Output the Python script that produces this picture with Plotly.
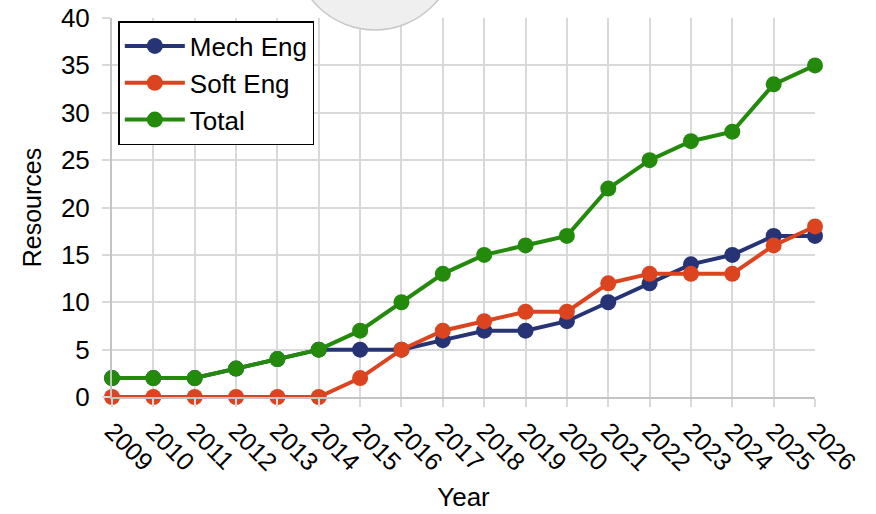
import plotly.graph_objects as go

years = list(range(2009, 2027))
mech_eng = [2, 2, 2, 3, 4, 5, 5, 5, 6, 7, 7, 8, 10, 12, 14, 15, 17, 17]
soft_eng = [0, 0, 0, 0, 0, 0, 2, 5, 7, 8, 9, 9, 12, 13, 13, 13, 16, 18]
total = [2, 2, 2, 3, 4, 5, 7, 10, 13, 15, 16, 17, 22, 25, 27, 28, 33, 35]

series = [
    ("Mech Eng", mech_eng, "#263374"),
    ("Soft Eng", soft_eng, "#DC4420"),
    ("Total", total, "#238A0C"),
]

fig = go.Figure()
for name, vals, col in series:
    fig.add_trace(go.Scatter(
        x=years, y=vals, name=name, mode="lines+markers",
        line=dict(color=col, width=4),
        marker=dict(color=col, size=16),
        cliponaxis=False,
    ))

grid = "#d9d9d9"
fig.update_layout(
    width=876, height=514,
    margin=dict(l=112, r=61, t=18, b=117),
    paper_bgcolor="white", plot_bgcolor="white",
    font=dict(family="Liberation Sans, Arial, sans-serif", size=25, color="black"),
    showlegend=True,
    legend=dict(
        x=0.009, y=0.992, xanchor="left", yanchor="top",
        bgcolor="white", bordercolor="black", borderwidth=1.5,
        font=dict(size=26), tracegroupgap=0, itemwidth=60,
    ),
    xaxis=dict(
        range=[2009, 2026], dtick=1, tickangle=45, automargin=False,
        showgrid=True, gridcolor=grid, gridwidth=1.5,
        ticks="outside", ticklen=8, tickcolor=grid, tickwidth=1.5,
        showline=True, linecolor="#c4c4c4", linewidth=1.5,
        zeroline=False,
        title=dict(text="Year", standoff=13, font=dict(size=26)),
        tickfont=dict(size=25),
    ),
    yaxis=dict(
        range=[0, 40], dtick=5, automargin=False,
        showgrid=True, gridcolor=grid, gridwidth=1.5,
        ticks="outside", ticklen=8, tickcolor=grid, tickwidth=1.5,
        ticksuffix="\u00a0",
        showline=True, linecolor="#c4c4c4", linewidth=1.5,
        zeroline=False,
        title=dict(text="Resources", standoff=12, font=dict(size=25)),
        tickfont=dict(size=26),
    ),
)

# partial light-grey circle at the top edge (overlay in the reference image)
fig.add_shape(
    type="circle", xref="paper", yref="paper",
    x0=(294 - 112) / 703, x1=(456 - 112) / 703,
    y0=(397 - 30) / 379, y1=(397 + 132) / 379,
    fillcolor="#efefef", line=dict(color="#c8c8c8", width=1.5),
    layer="above",
)

fig.write_html(
    "out.html",
    config={"displayModeBar": False},
    post_script="document.body.style.margin='0';document.body.style.padding='0';",
)
